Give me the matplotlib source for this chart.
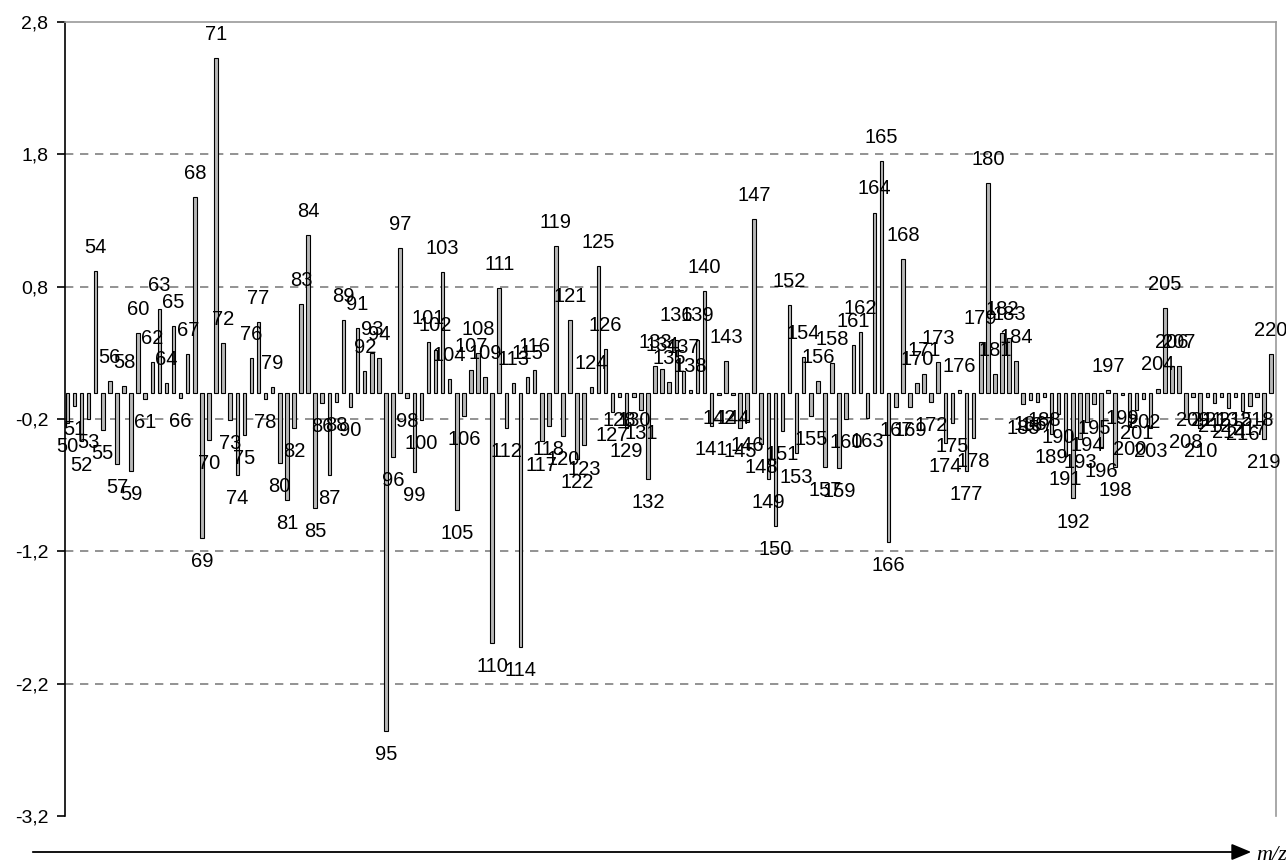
import matplotlib
matplotlib.use("Agg")
import matplotlib.pyplot as plt
import numpy as np

plt.rcParams['font.family'] = ['Liberation Sans', 'DejaVu Sans']

mz = list(range(50, 221))
values = [
    -0.23, -0.10, -0.37, -0.20, 0.92, -0.28, 0.09, -0.54, 0.05, -0.59,   # 50-59
    0.45, -0.05, 0.23, 0.63, 0.07, 0.50, -0.04, 0.29, 1.48, -1.10,       # 60-69
    -0.36, 2.53, 0.375, -0.21, -0.62, -0.32, 0.26, 0.53, -0.05, 0.04,    # 70-79
    -0.53, -0.81, -0.27, 0.67, 1.19, -0.87, -0.08, -0.62, -0.07, 0.55,   # 80-89
    -0.11, 0.49, 0.16, 0.30, 0.26, -2.56, -0.485, 1.09, -0.04, -0.60,    # 90-99
    -0.21, 0.38, 0.325, 0.91, 0.10, -0.89, -0.18, 0.17, 0.30, 0.12,      # 100-109
    -1.89, 0.79, -0.27, 0.07, -1.92, 0.12, 0.17, -0.37, -0.25, 1.11,     # 110-119
    -0.33, 0.55, -0.50, -0.40, 0.04, 0.955, 0.33, -0.15, -0.03, -0.27,   # 120-129
    -0.03, -0.13, -0.65, 0.20, 0.18, 0.08, 0.40, 0.16, 0.02, 0.40,       # 130-139
    0.77, -0.25, -0.02, 0.24, -0.02, -0.27, -0.22, 1.31, -0.39, -0.65,   # 140-149
    -1.01, -0.29, 0.66, -0.46, 0.27, -0.18, 0.09, -0.56, 0.22, -0.57,    # 150-159
    -0.20, 0.36, 0.46, -0.19, 1.36, 1.75, -1.13, -0.11, 1.01, -0.11,     # 160-169
    0.07, 0.14, -0.07, 0.23, -0.38, -0.23, 0.02, -0.59, -0.34, 0.38,     # 170-179
    1.58, 0.14, 0.45, 0.41, 0.24, -0.09, -0.06, -0.07, -0.03, -0.31,     # 180-189
    -0.16, -0.48, -0.80, -0.35, -0.22, -0.09, -0.42, 0.02, -0.56, -0.02, # 190-199
    -0.25, -0.13, -0.05, -0.27, 0.03, 0.64, 0.20, 0.20, -0.20, -0.03,    # 200-209
    -0.27, -0.03, -0.08, -0.03, -0.12, -0.03, -0.14, -0.10, -0.03, -0.35,# 210-219
    0.29,                                                                 # 220
]
yticks = [2.8, 1.8, 0.8, -0.2, -1.2, -2.2, -3.2]
ytick_labels = ["2,8", "1,8", "0,8", "-0,2", "-1,2", "-2,2", "-3,2"]
axis_label = "m/z"

W, H = 1286, 865
fig = plt.figure(figsize=(W / 100, H / 100), dpi=100)
ax = fig.add_axes([65 / W, 1 - 816 / H, (1276 - 65) / W, (816 - 22) / H])

ax.bar(mz, values, width=0.5, color='#b8b8b8', edgecolor='black', linewidth=0.8, zorder=3)

ax.set_xlim(49.67, 220.7)
ax.set_ylim(-3.2, 2.8)
ax.set_yticks(yticks)
ax.set_yticklabels(ytick_labels, fontsize=14)
ax.set_xticks([])
for y in yticks[1:-1]:
    ax.axhline(y, color='#808080', linestyle=(0, (5, 4)), linewidth=1.2, zorder=1)

ax.spines['left'].set_color('black')
ax.spines['left'].set_linewidth(1.2)
for s in ['top', 'right']:
    ax.spines[s].set_color('#999999')
    ax.spines[s].set_linewidth(1.2)
ax.spines['bottom'].set_visible(False)
ax.tick_params(axis='y', direction='out', length=6, width=1.2, pad=6)

for x, v in zip(mz, values):
    off = 17 if v >= 0 else -17
    ax.annotate(str(x), (x, v), xytext=(0, off), textcoords='offset points',
                ha='center', va='center', fontsize=14.5, zorder=4,
                annotation_clip=False)

# m/z arrow below the plot
yarr = 1 - 852 / H
fig.add_artist(matplotlib.patches.FancyArrowPatch(
    (30 / W, yarr), (1254 / W, yarr), transform=fig.transFigure,
    arrowstyle='-|>,head_length=12,head_width=5', mutation_scale=1,
    color='black', linewidth=1.3))
fig.text(1256 / W, yarr - 0.004, axis_label, fontsize=16, fontstyle='italic',
         family='Liberation Serif', ha='left', va='center')

fig.savefig('out.png', dpi=100)
